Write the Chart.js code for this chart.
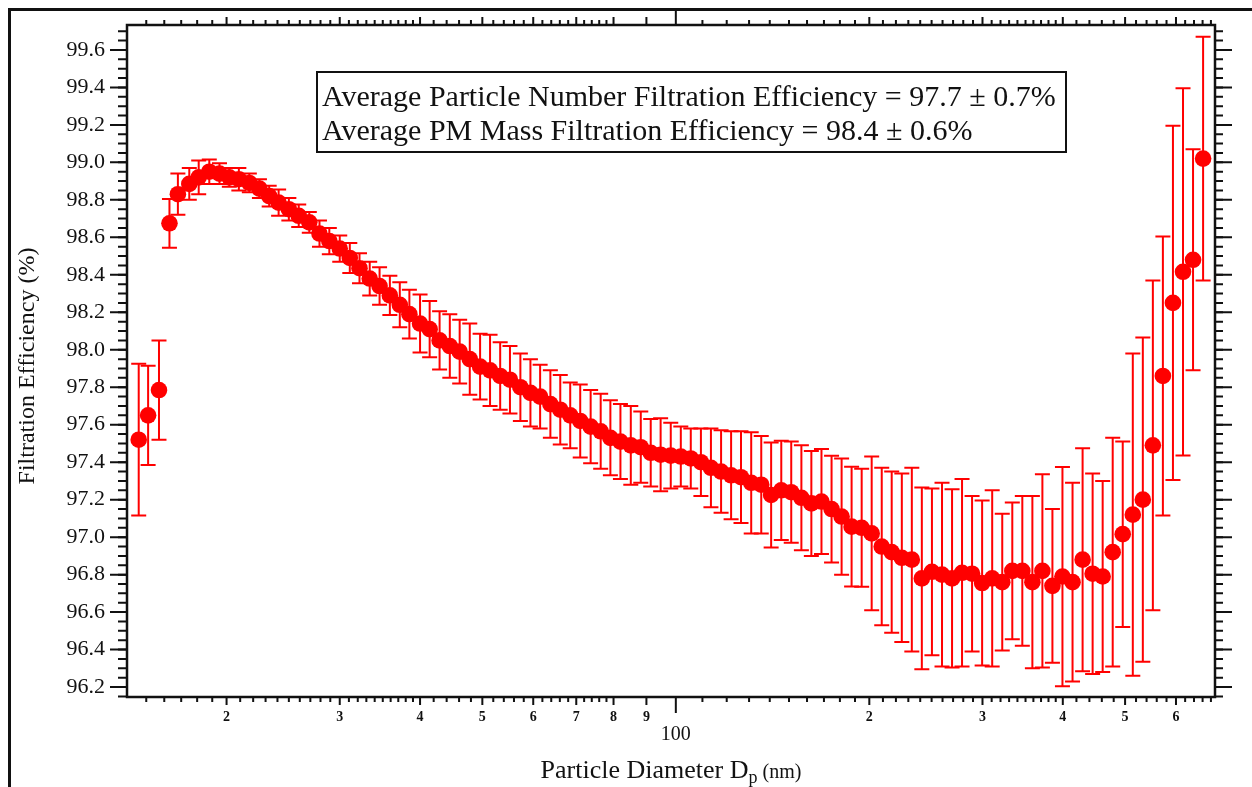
<!DOCTYPE html>
<html>
<head>
<meta charset="utf-8">
<title>Filtration Efficiency</title>
<script src="https://cdn.jsdelivr.net/npm/chart.js@4.4.1/dist/chart.umd.min.js"></script>
<style>
  html, body { margin: 0; padding: 0; background: #fff; }
  #wrap { width: 1252px; height: 787px; }
</style>
</head>
<body>
<div id="wrap"><canvas id="effChart" width="1252" height="787"></canvas></div>
<script>
// Particle diameter bins (nm)
const diameters = [
  14.6, 15.1, 15.7, 16.3, 16.8, 17.5, 18.1, 18.8, 19.5, 20.2,
  20.9, 21.7, 22.5, 23.3, 24.1, 25.0, 25.9, 26.9, 27.9, 28.9,
  30.0, 31.1, 32.2, 33.4, 34.6, 35.9, 37.2, 38.5, 40.0, 41.4,
  42.9, 44.5, 46.1, 47.8, 49.6, 51.4, 53.3, 55.2, 57.3, 59.4,
  61.5, 63.8, 66.1, 68.5, 71.0, 73.7, 76.4, 79.1, 82.0, 85.1,
  88.2, 91.4, 94.7, 98.2, 101.8, 105.5, 109.4, 113.4, 117.6, 121.9,
  126.3, 131.0, 135.8, 140.7, 145.9, 151.2, 156.8, 162.5, 168.5, 174.7,
  181.1, 187.7, 194.6, 201.7, 209.1, 216.7, 224.7, 232.9, 241.4, 250.3,
  259.5, 269.0, 278.8, 289.0, 299.6, 310.6, 322.0, 333.8, 346.0, 358.7,
  371.8, 385.4, 399.5, 414.2, 429.4, 445.1, 461.4, 478.3, 495.8, 514.0,
  532.8, 552.3, 572.5, 593.5, 615.3, 637.8, 661.2
];

// Filtration efficiency (%)
const efficiency = [
  97.52, 97.65, 97.785, 98.675, 98.83, 98.885, 98.92, 98.95, 98.94, 98.92,
  98.91, 98.89, 98.86, 98.82, 98.785, 98.75, 98.715, 98.68, 98.62, 98.58,
  98.54, 98.49, 98.435, 98.38, 98.34, 98.29, 98.24, 98.19, 98.14, 98.11,
  98.05, 98.02, 97.99, 97.95, 97.91, 97.89, 97.86, 97.84, 97.80, 97.77,
  97.75, 97.71, 97.68, 97.65, 97.62, 97.59, 97.565, 97.53, 97.51, 97.49,
  97.48, 97.45, 97.44, 97.435, 97.43, 97.42, 97.40, 97.37, 97.35, 97.33,
  97.32, 97.29, 97.28, 97.225, 97.25, 97.24, 97.21, 97.18, 97.19, 97.15,
  97.11, 97.056, 97.05, 97.02, 96.95, 96.92, 96.89, 96.88, 96.78, 96.815,
  96.80, 96.78, 96.81, 96.805, 96.755, 96.78, 96.76, 96.82, 96.82, 96.76,
  96.82, 96.74, 96.79, 96.76, 96.88, 96.805, 96.79, 96.92, 97.016, 97.12,
  97.20, 97.49, 97.86, 98.25, 98.416, 98.48, 99.02
];

// Error bar half-widths (%)
const efficiencyErr = [
  0.405, 0.265, 0.265, 0.13, 0.11, 0.085, 0.09, 0.065, 0.055, 0.05,
  0.06, 0.05, 0.05, 0.055, 0.07, 0.06, 0.06, 0.055, 0.07, 0.07,
  0.07, 0.08, 0.08, 0.09, 0.10, 0.105, 0.12, 0.13, 0.155, 0.15,
  0.155, 0.17, 0.17, 0.19, 0.175, 0.19, 0.18, 0.18, 0.18, 0.18,
  0.17, 0.18, 0.185, 0.175, 0.195, 0.195, 0.2, 0.2, 0.2, 0.21,
  0.19, 0.18, 0.195, 0.175, 0.16, 0.16, 0.18, 0.21, 0.22, 0.235,
  0.245, 0.27, 0.26, 0.28, 0.265, 0.27, 0.28, 0.28, 0.28, 0.285,
  0.31, 0.32, 0.315, 0.41, 0.42, 0.43, 0.45, 0.49, 0.485, 0.445,
  0.49, 0.475, 0.50, 0.415, 0.44, 0.47, 0.365, 0.365, 0.40, 0.46,
  0.515, 0.41, 0.585, 0.53, 0.595, 0.535, 0.51, 0.61, 0.495, 0.86,
  0.865, 0.88, 0.745, 0.945, 0.98, 0.59, 0.65
];

// Axis ticks and labels
const yTicks = [96.2, 96.4, 96.6, 96.8, 97.0, 97.2, 97.4, 97.6, 97.8, 98.0, 98.2, 98.4, 98.6, 98.8, 99.0, 99.2, 99.4, 99.6];
const xLabelTicks = [20, 30, 40, 50, 60, 70, 80, 90, 200, 300, 400, 500, 600];
const xLabelText = ['2', '3', '4', '5', '6', '7', '8', '9', '2', '3', '4', '5', '6'];
const xDecade = 100;
// minor tick runs on the log axis: [from, to, step]
const xMinorRuns = [[15, 19, 1], [21, 39, 1], [42, 78, 2], [110, 190, 10], [210, 390, 10], [420, 480, 20], [520, 580, 20], [620, 680, 20]];
const boxLines = [
  'Average Particle Number Filtration Efficiency = 97.7 \u00b1 0.7%',
  'Average PM Mass Filtration Efficiency = 98.4 \u00b1 0.6%'
];

const SERIF = '"Liberation Serif", "Times New Roman", serif';
const INK = '#111';
const RED = '#ff0000';

function minorXTicks(min, max) {
  const out = [];
  xMinorRuns.forEach(([from, to, step]) => {
    for (let d = from; d <= to; d += step) {
      if (!xLabelTicks.includes(d) && d >= min && d <= max) out.push(d);
    }
  });
  return out;
}

function minorYTicks(min, max) {
  const out = [];
  for (let k = 0; ; k++) {
    const v = 96.15 + 0.05 * k;
    if (v > max) break;
    if (v >= min) out.push(v);
  }
  return out;
}

// Error bars drawn under the markers
const errorBars = {
  id: 'errorBars',
  beforeDatasetsDraw(chart) {
    const { ctx, chartArea, scales: { x, y } } = chart;
    ctx.save();
    ctx.beginPath();
    ctx.rect(chartArea.left, chartArea.top, chartArea.right - chartArea.left, chartArea.bottom - chartArea.top);
    ctx.clip();
    ctx.strokeStyle = RED;
    ctx.lineWidth = 2;
    const cap = 7.5;
    diameters.forEach((d, i) => {
      const px = x.getPixelForValue(d);
      const top = y.getPixelForValue(efficiency[i] + efficiencyErr[i]);
      const bot = y.getPixelForValue(efficiency[i] - efficiencyErr[i]);
      ctx.beginPath();
      ctx.moveTo(px, top); ctx.lineTo(px, bot);
      ctx.moveTo(px - cap, top); ctx.lineTo(px + cap, top);
      ctx.moveTo(px - cap, bot); ctx.lineTo(px + cap, bot);
      ctx.stroke();
    });
    ctx.restore();
  }
};

// Frame, tick marks, x labels, titles and the text box
const decorations = {
  id: 'decorations',
  afterDraw(chart) {
    const { ctx, chartArea: a, scales: { x, y } } = chart;
    ctx.save();
    ctx.strokeStyle = INK;
    ctx.fillStyle = INK;

    // outer page lines
    ctx.lineWidth = 3;
    ctx.beginPath();
    ctx.moveTo(9.5, 787); ctx.lineTo(9.5, 9.5); ctx.lineTo(1252, 9.5);
    ctx.stroke();

    // plot frame
    ctx.lineWidth = 2.5;
    ctx.strokeRect(a.left, a.top, a.right - a.left, a.bottom - a.top);

    // x tick marks (bottom and top, both outward)
    ctx.lineWidth = 2;
    const xTick = (v, len) => {
      const px = x.getPixelForValue(v);
      ctx.beginPath();
      ctx.moveTo(px, a.bottom); ctx.lineTo(px, a.bottom + len);
      ctx.moveTo(px, a.top); ctx.lineTo(px, a.top - len);
      ctx.stroke();
    };
    minorXTicks(x.min, x.max).forEach(v => xTick(v, 5));
    xLabelTicks.forEach(v => xTick(v, 8));
    xTick(xDecade, 16);

    // y tick marks (left and right, outward)
    const yTick = (v, lenL, lenR) => {
      const py = y.getPixelForValue(v);
      ctx.beginPath();
      ctx.moveTo(a.left, py); ctx.lineTo(a.left - lenL, py);
      ctx.moveTo(a.right, py); ctx.lineTo(a.right + lenR, py);
      ctx.stroke();
    };
    minorYTicks(y.min, y.max).forEach(v => yTick(v, 9, 8));
    yTicks.forEach(v => yTick(v, 17, 17));

    // x tick labels
    ctx.textAlign = 'center';
    ctx.textBaseline = 'middle';
    ctx.font = 'bold 14px ' + SERIF;
    xLabelTicks.forEach((v, i) => ctx.fillText(xLabelText[i], x.getPixelForValue(v), a.bottom + 20));
    ctx.font = '20px ' + SERIF;
    ctx.fillText(String(xDecade), x.getPixelForValue(xDecade), a.bottom + 38);

    // x title with subscript
    ctx.textBaseline = 'alphabetic';
    ctx.textAlign = 'left';
    const fMain = '26px ' + SERIF, fSub = '18px ' + SERIF, fUnit = '20px ' + SERIF;
    const t1 = 'Particle Diameter D', t2 = 'p', t3 = ' (nm)';
    ctx.font = fMain; const w1 = ctx.measureText(t1).width;
    ctx.font = fSub; const w2 = ctx.measureText(t2).width;
    ctx.font = fUnit; const w3 = ctx.measureText(t3).width;
    let tx = (a.left + a.right) / 2 - (w1 + w2 + w3) / 2;
    const base = 778;
    ctx.font = fMain; ctx.fillText(t1, tx, base); tx += w1;
    ctx.font = fSub; ctx.fillText(t2, tx, base + 5); tx += w2;
    ctx.font = fUnit; ctx.fillText(t3, tx, base);

    // y title
    ctx.save();
    ctx.translate(28, (a.top + a.bottom) / 2 + 5);
    ctx.rotate(-Math.PI / 2);
    ctx.textAlign = 'center';
    ctx.textBaseline = 'middle';
    ctx.font = '24px ' + SERIF;
    ctx.fillText('Filtration Efficiency (%)', 0, 0);
    ctx.restore();

    // annotation box
    ctx.lineWidth = 2;
    ctx.fillStyle = '#fff';
    ctx.fillRect(317, 72, 749, 80);
    ctx.strokeRect(317, 72, 749, 80);
    ctx.fillStyle = INK;
    ctx.textAlign = 'left';
    ctx.textBaseline = 'alphabetic';
    ctx.font = '30px ' + SERIF;
    ctx.fillText(boxLines[0], 322, 106);
    ctx.fillText(boxLines[1], 322, 140);

    ctx.restore();
  }
};

new Chart(document.getElementById('effChart'), {
  type: 'scatter',
  data: {
    datasets: [{
      label: 'Filtration Efficiency',
      data: diameters.map((d, i) => ({ x: d, y: efficiency[i] })),
      backgroundColor: RED,
      borderColor: RED,
      borderWidth: 0,
      pointRadius: 8.3,
      pointHoverRadius: 8.3
    }]
  },
  options: {
    responsive: false,
    animation: false,
    devicePixelRatio: 1,
    layout: { padding: { top: 25, right: 37, left: 0, bottom: 0 } },
    plugins: { legend: { display: false }, tooltip: { enabled: false } },
    scales: {
      x: {
        type: 'logarithmic',
        position: 'bottom',
        min: 14.0,
        max: 690,
        grid: { display: false, drawTicks: false },
        border: { display: false },
        ticks: { display: false },
        afterFit: s => { s.height = 90; s.paddingLeft = 0; s.paddingRight = 0; }
      },
      y: {
        type: 'linear',
        position: 'left',
        min: 96.147,
        max: 99.733,
        afterBuildTicks: s => { s.ticks = yTicks.map(v => ({ value: v })); },
        grid: { display: false, drawTicks: false },
        border: { display: false },
        ticks: {
          padding: 22,
          color: INK,
          font: { family: SERIF, size: 22 },
          callback: v => Number(v).toFixed(1)
        },
        afterFit: s => { s.width = 127; s.paddingTop = 0; s.paddingBottom = 0; }
      }
    }
  },
  plugins: [errorBars, decorations]
});
</script>
</body>
</html>
